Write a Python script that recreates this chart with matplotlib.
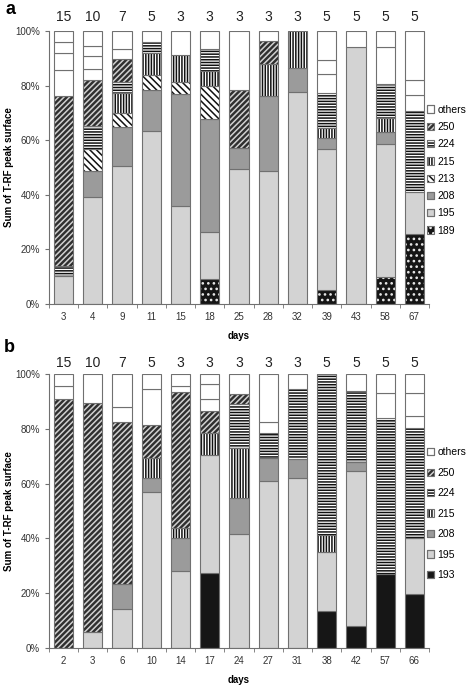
import matplotlib.pyplot as plt
from matplotlib.patches import Patch
from matplotlib.legend_handler import HandlerTuple

plt.rcParams['font.family'] = ['Liberation Sans', 'DejaVu Sans']
plt.rcParams['hatch.linewidth'] = 1.1

# ---- panel a ----
days_a = ["3", "4", "9", "11", "15", "18", "25", "28", "32", "39", "43", "58", "67"]
counts_a = [15, 10, 7, 5, 3, 3, 3, 3, 3, 5, 5, 5, 5]
a_189 = [0, 0, 0, 0, 0, 9.1, 0, 0, 0, 5.0, 0, 9.9, 25.6]
a_195 = [10.3, 39.3, 50.4, 63.4, 35.9, 17.3, 49.4, 48.6, 77.5, 51.7, 94.0, 48.6, 15.5]
a_208 = [0, 9.5, 14.5, 14.9, 41.2, 41.5, 7.9, 27.7, 8.9, 4.0, 0, 4.4, 0]
a_213 = [0, 8.0, 5.0, 5.7, 4.2, 11.8, 0, 0, 0, 0, 0, 0, 0]
a_215 = [0, 0, 7.3, 8.0, 10.0, 5.7, 0, 11.6, 13.6, 3.9, 0, 5.4, 0]
a_224 = [3.7, 8.4, 4.1, 4.0, 0, 8.1, 0, 0, 0, 12.6, 0, 12.4, 29.6]
a_250 = [62.3, 16.9, 8.3, 0, 0, 0, 21.2, 8.3, 0, 0, 0, 0, 0]
# "others" are several small white peaks stacked on top
a_others = [[9.5, 6.1, 4.1, 4.0], [3.9, 4.9, 3.6, 5.5], [3.9, 6.5], [4.0], [8.7],
            [6.5], [21.5], [3.8], [], [7.0, 5.2, 10.6], [6.0], [13.3, 6.0],
            [5.9, 5.4, 18.0]]

# ---- panel b ----
days_b = ["2", "3", "6", "10", "14", "17", "24", "27", "31", "38", "42", "57", "66"]
counts_b = [15, 10, 7, 5, 3, 3, 3, 3, 3, 5, 5, 5, 5]
b_193 = [0, 0, 0, 0, 0, 27.3, 0, 0, 0, 13.6, 8.0, 26.9, 19.6]
b_195 = [0, 5.7, 14.1, 56.8, 28.1, 43.1, 41.5, 61.1, 62.0, 21.6, 56.6, 0, 20.4]
b_208 = [0, 0, 9.1, 5.4, 11.9, 0, 13.4, 8.1, 6.9, 0, 3.4, 0, 0]
b_215 = [0, 0, 0, 7.0, 3.7, 7.9, 18.2, 0, 0, 6.0, 0, 0, 0]
b_224 = [0, 0, 0, 0, 0, 0, 15.8, 9.1, 25.6, 58.8, 25.8, 56.9, 40.2]
b_250 = [90.8, 83.6, 59.4, 12.1, 49.9, 8.3, 3.7, 0, 0, 0, 0, 0, 0]
b_others = [[4.9, 4.3], [10.7], [5.5, 11.9], [13.3, 5.4], [2.1, 4.3], [4.2, 5.4, 3.8],
            [7.4], [4.3, 17.4], [5.5], [], [6.2], [9.1, 7.1], [4.6, 8.4, 6.8]]

# facecolor, hatch colour, hatch
STYLE = {
    "189": ("#151515", "#e8e8e8", "..."),
    "193": ("#161616", None, ""),
    "195": ("#d3d3d3", None, ""),
    "208": ("#9b9b9b", None, ""),
    "213": ("white", "#111111", "\\\\\\\\\\"),
    "215": ("white", "#111111", "||||||"),
    "224": ("white", "#111111", "------"),
    "250": ("#2f2f2f", "#d0d0d0", "//////"),
    "others": ("white", None, ""),
}
EDGE = "#707070"
WIDTH = 0.66


def draw_segment(ax, x, bottom, height, name):
    face, hcol, hatch = STYLE[name]
    if hatch:
        ax.bar(x, height, WIDTH, bottom, color=face, edgecolor=hcol, hatch=hatch, linewidth=0)
        ax.bar(x, height, WIDTH, bottom, color="none", edgecolor=EDGE, linewidth=0.8)
    else:
        ax.bar(x, height, WIDTH, bottom, color=face, edgecolor=EDGE, linewidth=0.8)


def legend_handle(name):
    face, hcol, hatch = STYLE[name]
    fill = Patch(facecolor=face, edgecolor=hcol if hatch else EDGE, hatch=hatch,
                 linewidth=0 if hatch else 0.8)
    frame = Patch(facecolor="none", edgecolor=EDGE, linewidth=0.8)
    return (fill, frame)


def draw_panel(ax, days, counts, series, others, count_y, legend_order, spacing):
    for i in range(len(days)):
        bottom = 0
        for name, values in series:
            if values[i] > 0:
                draw_segment(ax, i, bottom, values[i], name)
                bottom += values[i]
        for part in others[i]:
            draw_segment(ax, i, bottom, part, "others")
            bottom += part
        ax.text(i, count_y, str(counts[i]), ha="center", va="center", fontsize=10,
                color="#222222", clip_on=False)

    ax.set_xlim(-0.5, len(days) - 0.5)
    ax.set_ylim(0, 100)
    ax.set_yticks([0, 20, 40, 60, 80, 100])
    ax.set_yticklabels(["0%", "20%", "40%", "60%", "80%", "100%"])
    ax.set_xticks(range(len(days)))
    ax.set_xticklabels(days)
    ax.set_xticks([i - 0.5 for i in range(len(days) + 1)], minor=True)
    ax.tick_params(axis="x", which="major", length=0, pad=6, labelsize=7, colors="#333333")
    ax.tick_params(axis="x", which="minor", length=3, color=EDGE, direction="out")
    ax.tick_params(axis="y", length=3, color=EDGE, labelsize=7, labelcolor="#333333")
    for side in ["top", "right"]:
        ax.spines[side].set_visible(False)
    for side in ["left", "bottom"]:
        ax.spines[side].set_color(EDGE)
        ax.spines[side].set_linewidth(0.8)

    ax.set_xlabel("days", fontsize=7, fontweight="bold", labelpad=6)
    ax.set_ylabel("Sum of T-RF peak surface", fontsize=7, fontweight="bold", labelpad=1)

    handles = [legend_handle(n) for n in legend_order]
    ax.legend(handles, legend_order, handler_map={tuple: HandlerTuple(ndivide=1)},
              loc="center left", bbox_to_anchor=(0.995, 0.49), frameon=False,
              fontsize=7.5, handlelength=0.7, handleheight=0.7, handletextpad=0.3,
              labelspacing=spacing, borderaxespad=0, borderpad=0)


fig = plt.figure(figsize=(4.73, 6.89), dpi=100)
ax_a = fig.add_axes([49 / 473, 1 - 304 / 689, 380 / 473, 273 / 689])
ax_b = fig.add_axes([49 / 473, 1 - 648 / 689, 380 / 473, 274 / 689])

series_a = [("189", a_189), ("195", a_195), ("208", a_208), ("213", a_213),
            ("215", a_215), ("224", a_224), ("250", a_250)]
series_b = [("193", b_193), ("195", b_195), ("208", b_208), ("215", b_215),
            ("224", b_224), ("250", b_250)]

draw_panel(ax_a, days_a, counts_a, series_a, a_others, 105.2,
           ["others", "250", "224", "215", "213", "208", "195", "189"], 0.7)
draw_panel(ax_b, days_b, counts_b, series_b, b_others, 103.9,
           ["others", "250", "224", "215", "208", "195", "193"], 1.0)

fig.text(5 / 473, 1 - 9 / 689, "a", fontsize=13, fontweight="bold", va="center")
fig.text(4 / 473, 1 - 347 / 689, "b", fontsize=13, fontweight="bold", va="center")

fig.savefig("out.png", dpi=100)
